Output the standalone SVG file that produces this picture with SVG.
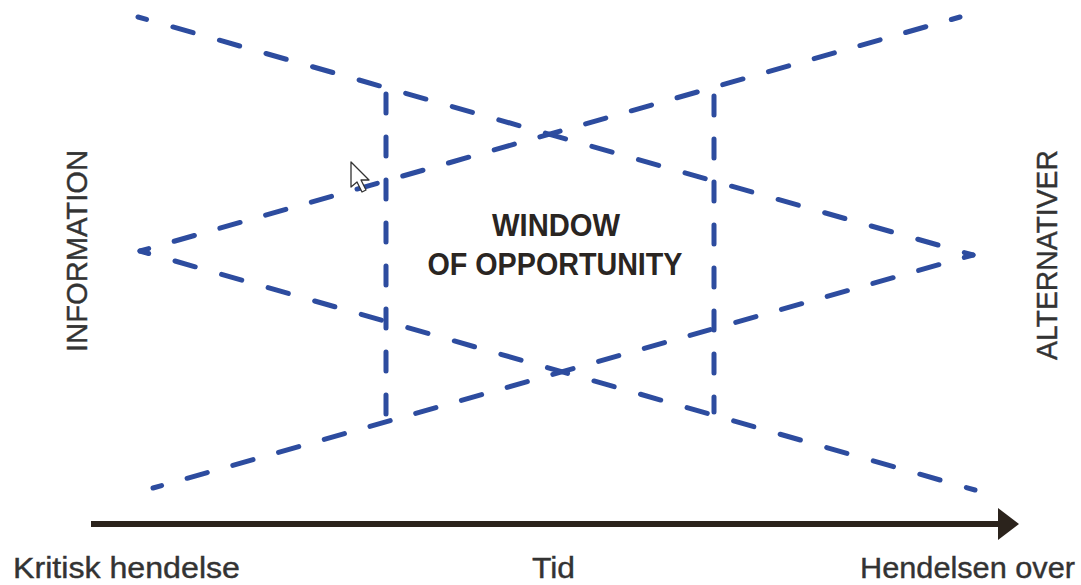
<svg xmlns="http://www.w3.org/2000/svg" width="1081" height="585" viewBox="0 0 1081 585">
  <defs>
    <style>
      .dash { fill: none; stroke: #2d4c9f; stroke-width: 5; stroke-linecap: round; stroke-dashoffset: 12; }
      .vdash { fill: none; stroke: #2d4c9f; stroke-width: 5; stroke-linecap: round; stroke-dasharray: 19 24; }
      .axis { fill: none; stroke: #2b231c; stroke-width: 6; }
      .label { font-family: "Liberation Sans", Arial, sans-serif; font-size: 30px; fill: #333333; stroke: #333333; stroke-width: 0.4; }
      .title { font-family: "Liberation Sans", Arial, sans-serif; font-size: 31px; font-weight: bold; fill: #2a2522; text-anchor: middle; }
    </style>
  </defs>
  <rect width="1081" height="585" fill="#ffffff"/>

  <!-- dashed funnels and window boundaries; dash gaps tuned per line so both ends get a short cap dash -->
  <g id="connectors">
    <!-- information narrowing towards the right tip -->
    <path class="dash" stroke-dasharray="21 27.41" d="M973,255 L138,17"/>
    <path class="dash" stroke-dasharray="21 26.53" d="M973,255 L153,488"/>
    <!-- alternatives widening from the left tip -->
    <path class="dash" stroke-dasharray="21 26.54" d="M140,251 L960,17"/>
    <path class="dash" stroke-dasharray="21 27.42" d="M140,251 L975,490"/>
    <!-- window boundaries -->
    <path class="vdash" d="M386,94 L386,414"/>
    <path class="vdash" d="M714,96 L714,412"/>
  </g>

  <g id="window">
    <text class="title" x="556" y="236" textLength="128" lengthAdjust="spacingAndGlyphs">WINDOW</text>
    <text class="title" x="555" y="275" textLength="255" lengthAdjust="spacingAndGlyphs">OF OPPORTUNITY</text>
  </g>

  <g id="information">
    <text class="label" transform="translate(87,251) rotate(-90)" text-anchor="middle" textLength="202" lengthAdjust="spacingAndGlyphs">INFORMATION</text>
  </g>

  <g id="alternativer">
    <text class="label" transform="translate(1057,255) rotate(-90)" text-anchor="middle" textLength="210" lengthAdjust="spacingAndGlyphs">ALTERNATIVER</text>
  </g>

  <!-- time axis -->
  <g id="time-axis">
    <path class="axis" d="M91,524 L1002,524"/>
    <polygon points="998,508 1019,524 998,540" fill="#2b231c"/>
  </g>

  <g id="kritisk-hendelse">
    <text class="label" x="13" y="578" textLength="227" lengthAdjust="spacingAndGlyphs">Kritisk hendelse</text>
  </g>
  <g id="tid">
    <text class="label" x="532" y="578" textLength="43" lengthAdjust="spacingAndGlyphs">Tid</text>
  </g>
  <g id="hendelsen-over">
    <text class="label" x="860" y="578" textLength="215" lengthAdjust="spacingAndGlyphs">Hendelsen over</text>
  </g>

  <!-- pointer -->
  <g id="cursor">
    <polygon points="351,162 351,187 357,182 362,192 366,190 361,180 369,180" fill="#ffffff" stroke="#333333" stroke-width="1.3" stroke-linejoin="round"/>
  </g>
</svg>
